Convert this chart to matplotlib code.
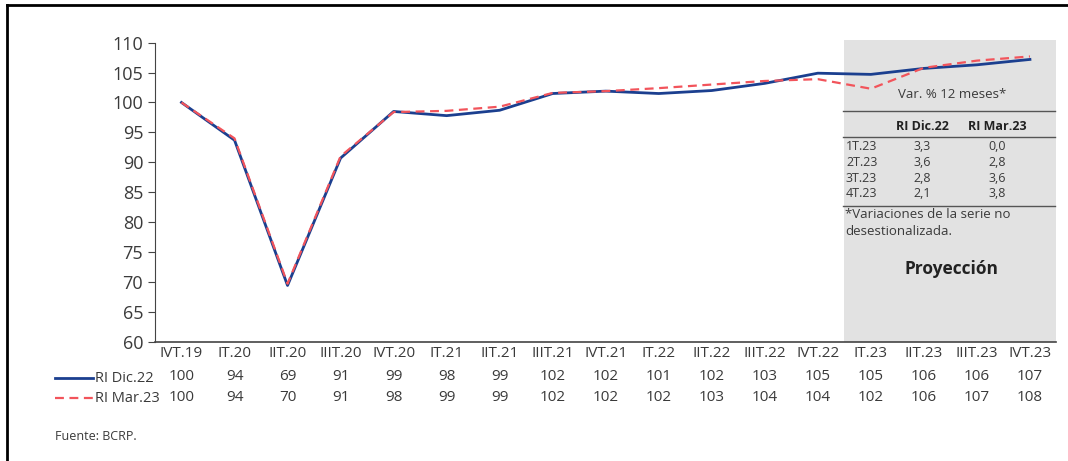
import numpy as np
import matplotlib.pyplot as plt
from matplotlib.lines import Line2D

plt.rcParams['font.family'] = ['Open Sans', 'DejaVu Sans']

quarters = ["IVT.19", "IT.20", "IIT.20", "IIIT.20", "IVT.20", "IT.21", "IIT.21", "IIIT.21",
            "IVT.21", "IT.22", "IIT.22", "IIIT.22", "IVT.22", "IT.23", "IIT.23", "IIIT.23", "IVT.23"]
ri_dic22 = [100, 93.7, 69.4, 90.7, 98.5, 97.8, 98.7, 101.5, 101.9, 101.5, 102.0, 103.2, 104.9,
            104.7, 105.7, 106.3, 107.2]
ri_mar23 = [100, 94.0, 69.7, 91.0, 98.4, 98.6, 99.3, 101.6, 101.9, 102.4, 103.0, 103.6, 103.9,
            102.3, 105.8, 107.0, 107.7]
tab_dic22 = [100, 94, 69, 91, 99, 98, 99, 102, 102, 101, 102, 103, 105, 105, 106, 106, 107]
tab_mar23 = [100, 94, 70, 91, 98, 99, 99, 102, 102, 102, 103, 104, 104, 102, 106, 107, 108]

var_rows = ["1T.23", "2T.23", "3T.23", "4T.23"]
var_dic22 = ["3,3", "3,6", "2,8", "2,1"]
var_mar23 = ["0,0", "2,8", "3,6", "3,8"]

blue = "#1b3f8f"
red = "#f2545b"
txt = "#3a3a3a"

fig = plt.figure(figsize=(10.68, 4.61), dpi=100)
ax = fig.add_axes([0.1451, 0.2588, 0.8441, 0.6486])
x = np.arange(len(quarters))

# projection box
ax.fill_between([12.5, 16.5], 60, 110.5, color="#e2e2e2", zorder=0, clip_on=False, lw=0)

ax.plot(x, ri_dic22, color=blue, lw=2, zorder=3)
ax.plot(x, ri_mar23, color=red, lw=1.6, dashes=(4, 2.5), zorder=4)

ax.set_xlim(-0.5, 16.5)
ax.set_ylim(60, 110)
ax.set_yticks(range(60, 111, 5))
ax.set_xticks(x)
ax.set_xticklabels(quarters)
ax.tick_params(axis='y', labelsize=13, colors="#444444", length=5, width=0.8, labelcolor=txt)
ax.tick_params(axis='x', labelsize=11, length=0, pad=3, labelcolor=txt)
for s in ["top", "right"]:
    ax.spines[s].set_visible(False)
ax.spines["left"].set_color("#444444")
ax.spines["bottom"].set_color("#444444")
ax.spines["bottom"].set_linewidth(1.2)

# data table under the axis
tr = ax.get_xaxis_transform()
for i in range(len(quarters)):
    ax.text(i, -0.118, str(tab_dic22[i]), transform=tr, ha="center", va="center", fontsize=11, color=txt)
    ax.text(i, -0.185, str(tab_mar23[i]), transform=tr, ha="center", va="center", fontsize=11, color=txt)

fig.add_artist(Line2D([55 / 1068, 93 / 1068], [1 - 378 / 461] * 2, color=blue, lw=2))
fig.add_artist(Line2D([55 / 1068, 93 / 1068], [1 - 398 / 461] * 2, color=red, lw=1.6, dashes=(4, 2.5)))
fig.text(95 / 1068, 1 - 378 / 461, "RI Dic.22", ha="left", va="center", fontsize=10.5, color=txt)
fig.text(95 / 1068, 1 - 398 / 461, "RI Mar.23", ha="left", va="center", fontsize=10.5, color=txt)
fig.text(55 / 1068, 1 - 436 / 461, "Fuente: BCRP.", ha="left", va="center", fontsize=9, color=txt)

# variation table inside the box
def fx(px):
    return px / 1068

def fy(py):
    return 1 - py / 461

fig.text(fx(952), fy(94), "Var. % 12 meses*", ha="center", va="center", fontsize=9.5, color=txt)
for py in (111, 137, 206):
    fig.add_artist(Line2D([fx(843), fx(1055)], [fy(py)] * 2, color="#555555", lw=1))
fig.text(fx(922), fy(126), "RI Dic.22", ha="center", va="center", fontsize=9, fontweight="bold", color="#222222")
fig.text(fx(997), fy(126), "RI Mar.23", ha="center", va="center", fontsize=9, fontweight="bold", color="#222222")
for k, row in enumerate(var_rows):
    py = 147 + k * 15.5
    fig.text(fx(846), fy(py), row, ha="left", va="center", fontsize=9, color=txt)
    fig.text(fx(922), fy(py), var_dic22[k], ha="center", va="center", fontsize=9, color=txt)
    fig.text(fx(997), fy(py), var_mar23[k], ha="center", va="center", fontsize=9, color=txt)
fig.text(fx(845), fy(215), "*Variaciones de la serie no", ha="left", va="center", fontsize=9.5, color=txt)
fig.text(fx(845), fy(231), "desestionalizada.", ha="left", va="center", fontsize=9.5, color=txt)
fig.text(fx(952), fy(269), "Proyección", ha="center", va="center", fontsize=12.5, fontweight="bold", color="#222222")

# frame lines at top and left
fig.add_artist(Line2D([fx(7), 1], [fy(5), fy(5)], color="black", lw=2))
fig.add_artist(Line2D([fx(7), fx(7)], [fy(5), 0], color="black", lw=2))

fig.savefig("out.png", dpi=100)
